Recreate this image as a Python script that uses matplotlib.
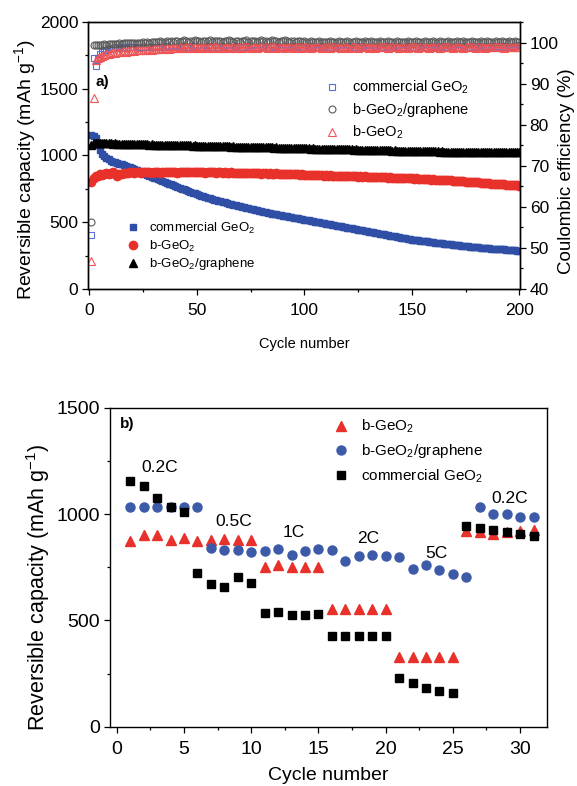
import matplotlib
matplotlib.use("Agg")
import matplotlib.pyplot as plt
from matplotlib.ticker import MultipleLocator

plt.rcParams['font.family'] = ['Liberation Sans', 'DejaVu Sans']
plt.rcParams['mathtext.default'] = 'regular'

# ---- panel a: 200 cycles ----
cycles_a = list(range(1, 201))

# capacity, mAh/g
cap_commercial = [
    1150, 1145, 1130, 1080, 1040, 1012, 998, 985, 972, 960,
    955, 950, 945, 940, 935, 929, 923, 917, 911, 905,
    898, 891, 884, 877, 870, 863, 856, 849, 842, 835,
    828, 822, 815, 809, 802, 796, 789, 783, 776, 770,
    764, 758, 752, 746, 740, 734, 728, 722, 716, 710,
    705, 700, 695, 690, 685, 680, 675, 670, 665, 660,
    656, 652, 648, 644, 640, 636, 632, 628, 624, 620,
    616, 612, 608, 604, 600, 597, 593, 590, 586, 583,
    579, 576, 572, 569, 565, 562, 559, 556, 553, 550,
    547, 544, 541, 538, 535, 532, 529, 526, 523, 520,
    517, 514, 511, 508, 505, 502, 499, 496, 493, 490,
    487, 484, 481, 478, 475, 472, 469, 466, 463, 460,
    457, 454, 451, 448, 445, 442, 439, 436, 433, 430,
    427, 424, 421, 418, 415, 412, 409, 406, 403, 400,
    397, 394, 391, 388, 385, 382, 379, 376, 373, 370,
    368, 366, 364, 362, 360, 358, 356, 354, 352, 350,
    348, 346, 344, 342, 340, 338, 336, 334, 332, 330,
    328, 326, 324, 322, 320, 319, 317, 316, 314, 313,
    311, 310, 308, 307, 305, 304, 303, 302, 301, 300,
    299, 297, 296, 295, 293, 292, 290, 289, 287, 285,
]
cap_bgeo2 = [
    800, 835, 845, 850, 860, 855, 865, 870, 862, 868,
    875, 860, 850, 858, 865, 870, 872, 868, 874, 876,
    872, 878, 875, 870, 876, 873, 878, 875, 872, 876,
    874, 877, 872, 875, 878, 874, 876, 873, 877, 875,
    872, 876, 874, 878, 875, 873, 877, 874, 876, 875,
    873, 876, 874, 872, 875, 873, 876, 874, 872, 875,
    873, 871, 874, 872, 870, 873, 871, 869, 872, 870,
    868, 871, 869, 867, 870, 868, 866, 869, 867, 865,
    868, 866, 864, 867, 865, 863, 866, 864, 862, 865,
    863, 861, 864, 862, 860, 862, 859, 857, 860, 856,
    855, 857, 854, 852, 855, 853, 851, 853, 850, 852,
    849, 851, 848, 850, 847, 849, 846, 848, 845, 847,
    844, 846, 843, 845, 842, 844, 841, 843, 840, 842,
    839, 841, 838, 840, 837, 839, 836, 838, 835, 836,
    834, 835, 832, 834, 831, 832, 829, 831, 828, 829,
    827, 828, 825, 826, 823, 824, 822, 823, 820, 821,
    818, 819, 817, 817, 815, 815, 813, 813, 811, 811,
    809, 809, 807, 806, 805, 804, 803, 801, 800, 799,
    798, 796, 795, 794, 793, 791, 790, 789, 788, 786,
    785, 784, 783, 781, 780, 779, 778, 777, 776, 775,
]
cap_graphene = [
    1080, 1092, 1094, 1093, 1092, 1091, 1092, 1090, 1091, 1090,
    1089, 1090, 1088, 1089, 1088, 1087, 1088, 1086, 1087, 1086,
    1085, 1086, 1084, 1085, 1084, 1083, 1084, 1082, 1083, 1082,
    1081, 1082, 1080, 1081, 1080, 1079, 1080, 1078, 1079, 1078,
    1077, 1078, 1076, 1077, 1076, 1075, 1076, 1074, 1075, 1074,
    1073, 1074, 1072, 1073, 1072, 1071, 1072, 1070, 1071, 1070,
    1069, 1070, 1068, 1069, 1068, 1067, 1068, 1066, 1067, 1066,
    1065, 1066, 1064, 1065, 1064, 1063, 1064, 1062, 1063, 1062,
    1061, 1062, 1060, 1061, 1060, 1059, 1060, 1058, 1059, 1058,
    1057, 1058, 1056, 1057, 1056, 1055, 1056, 1054, 1055, 1054,
    1053, 1054, 1052, 1053, 1052, 1051, 1052, 1050, 1051, 1050,
    1049, 1050, 1048, 1049, 1048, 1047, 1048, 1046, 1047, 1046,
    1045, 1046, 1044, 1045, 1044, 1043, 1044, 1042, 1043, 1042,
    1041, 1042, 1040, 1041, 1040, 1039, 1040, 1038, 1039, 1038,
    1037, 1038, 1036, 1037, 1036, 1035, 1036, 1034, 1035, 1034,
    1033, 1034, 1032, 1033, 1032, 1031, 1032, 1030, 1031, 1030,
    1030, 1031, 1029, 1030, 1029, 1028, 1029, 1028, 1029, 1028,
    1027, 1028, 1027, 1028, 1026, 1027, 1026, 1027, 1026, 1027,
    1026, 1025, 1026, 1025, 1026, 1025, 1026, 1025, 1025, 1026,
    1025, 1026, 1025, 1024, 1025, 1024, 1025, 1024, 1025, 1024,
]

# coulombic efficiency, %
ce_commercial = [
    53.2, 96.3, 94.4, 96.0, 97.2, 97.8, 98.1, 98.3, 98.5, 98.6,
    98.7, 98.6, 98.8, 98.7, 98.9, 98.8, 98.7, 98.9, 98.8, 99.0,
    98.8, 98.9, 98.7, 99.0, 98.8, 98.9, 99.0, 98.8, 98.9, 99.0,
    98.9, 98.8, 99.0, 98.9, 98.8, 99.1, 98.9, 98.8, 99.0, 98.9,
    99.0, 98.8, 98.9, 99.1, 98.9, 98.8, 99.0, 98.9, 99.1, 98.8,
    98.9, 99.0, 98.8, 98.9, 99.1, 99.0, 98.8, 98.9, 99.0, 98.9,
    98.8, 99.0, 99.1, 98.9, 98.8, 99.0, 98.9, 99.1, 98.9, 98.8,
    99.0, 98.9, 98.8, 99.1, 99.0, 98.9, 98.8, 99.0, 98.9, 99.1,
    98.9, 98.8, 99.0, 98.9, 99.1, 98.8, 98.9, 99.0, 98.9, 98.8,
    99.0, 99.1, 98.9, 98.8, 99.0, 98.9, 99.1, 98.9, 98.8, 99.0,
    98.9, 99.0, 98.8, 99.1, 98.9, 99.0, 98.8, 98.9, 99.1, 99.0,
    98.8, 98.9, 99.0, 98.9, 99.1, 98.8, 99.0, 98.9, 98.8, 99.0,
    99.1, 98.9, 98.8, 99.0, 98.9, 99.1, 99.0, 98.8, 98.9, 99.0,
    98.9, 98.8, 99.1, 99.0, 98.9, 98.8, 99.0, 99.1, 98.9, 98.8,
    99.0, 98.9, 99.1, 98.8, 98.9, 99.0, 98.9, 99.1, 98.8, 99.0,
    98.9, 99.0, 98.8, 99.1, 98.9, 99.0, 98.9, 98.8, 99.1, 99.0,
    98.9, 98.8, 99.0, 99.1, 98.9, 99.0, 98.8, 98.9, 99.1, 99.0,
    98.9, 99.0, 98.8, 99.1, 99.0, 98.9, 99.0, 98.8, 99.1, 98.9,
    99.0, 98.9, 99.1, 99.0, 98.9, 99.1, 99.0, 98.9, 99.1, 99.0,
    99.1, 98.9, 99.0, 99.1, 99.0, 99.1, 99.0, 99.2, 99.1, 99.5,
]
ce_graphene = [
    56.4, 99.4, 99.5, 99.4, 99.5, 99.5, 99.6, 99.5, 99.6, 99.6,
    99.7, 99.6, 99.7, 99.8, 99.7, 99.8, 99.8, 99.9, 99.8, 99.9,
    99.9, 100.0, 99.9, 100.0, 100.1, 100.0, 100.1, 100.0, 100.2, 100.1,
    100.2, 100.1, 100.3, 100.2, 100.1, 100.3, 100.2, 100.4, 100.2, 100.3,
    100.4, 100.2, 100.3, 100.5, 100.3, 100.2, 100.4, 100.3, 100.5, 100.3,
    100.4, 100.2, 100.3, 100.4, 100.3, 100.5, 100.2, 100.4, 100.3, 100.4,
    100.3, 100.2, 100.4, 100.3, 100.5, 100.3, 100.2, 100.4, 100.3, 100.2,
    100.4, 100.3, 100.5, 100.2, 100.3, 100.4, 100.3, 100.2, 100.4, 100.5,
    100.3, 100.4, 100.2, 100.3, 100.5, 100.3, 100.4, 100.2, 100.3, 100.4,
    100.5, 100.3, 100.2, 100.4, 100.3, 100.2, 100.4, 100.3, 100.2, 100.3,
    100.2, 100.1, 100.3, 100.2, 100.1, 100.2, 100.3, 100.1, 100.2, 100.1,
    100.2, 100.3, 100.1, 100.2, 100.1, 100.3, 100.2, 100.1, 100.2, 100.3,
    100.1, 100.2, 100.1, 100.3, 100.2, 100.1, 100.2, 100.3, 100.1, 100.2,
    100.3, 100.1, 100.2, 100.1, 100.3, 100.2, 100.2, 100.1, 100.3, 100.2,
    100.1, 100.2, 100.3, 100.1, 100.2, 100.2, 100.1, 100.3, 100.2, 100.1,
    100.2, 100.3, 100.1, 100.2, 100.1, 100.3, 100.2, 100.2, 100.1, 100.3,
    100.2, 100.1, 100.3, 100.2, 100.2, 100.1, 100.3, 100.2, 100.1, 100.2,
    100.3, 100.2, 100.1, 100.3, 100.2, 100.1, 100.2, 100.3, 100.2, 100.1,
    100.2, 100.3, 100.2, 100.1, 100.3, 100.2, 100.2, 100.1, 100.3, 100.2,
    100.1, 100.3, 100.2, 100.2, 100.3, 100.1, 100.2, 100.3, 100.2, 100.2,
]
ce_bgeo2 = [
    46.7, 86.6, 95.8, 96.2, 96.5, 96.8, 97.0, 97.2, 97.3, 97.5,
    97.6, 97.5, 97.7, 97.8, 97.7, 97.9, 97.8, 98.0, 97.9, 98.1,
    98.0, 98.1, 98.2, 98.1, 98.3, 98.2, 98.3, 98.4, 98.3, 98.4,
    98.5, 98.4, 98.5, 98.6, 98.5, 98.6, 98.5, 98.7, 98.6, 98.7,
    98.6, 98.8, 98.7, 98.6, 98.8, 98.7, 98.9, 98.7, 98.8, 98.6,
    98.8, 98.7, 98.9, 98.8, 98.6, 98.8, 98.7, 98.9, 98.8, 98.7,
    98.9, 98.7, 98.8, 99.0, 98.7, 98.8, 98.9, 98.7, 98.8, 98.9,
    98.7, 98.8, 99.0, 98.8, 98.7, 98.9, 98.8, 98.7, 98.9, 98.8,
    98.8, 98.9, 98.7, 98.8, 99.0, 98.8, 98.7, 98.9, 98.8, 98.9,
    98.7, 98.8, 98.9, 98.8, 98.7, 98.9, 99.0, 98.8, 98.7, 98.9,
    98.8, 98.9, 98.7, 98.8, 98.9, 98.8, 99.0, 98.7, 98.8, 98.9,
    98.8, 98.7, 98.9, 98.8, 99.0, 98.8, 98.7, 98.9, 98.8, 98.9,
    98.7, 98.9, 98.8, 98.9, 98.7, 98.8, 99.0, 98.8, 98.9, 98.7,
    98.9, 98.8, 98.7, 98.9, 98.8, 99.0, 98.8, 98.9, 98.7, 98.8,
    98.9, 98.8, 99.0, 98.7, 98.8, 98.9, 98.8, 98.7, 98.9, 98.8,
    98.8, 98.9, 98.7, 98.9, 98.8, 99.0, 98.8, 98.7, 98.9, 98.8,
    98.9, 98.8, 98.7, 98.9, 98.8, 98.9, 99.0, 98.8, 98.7, 98.9,
    98.8, 98.9, 98.8, 98.7, 98.9, 98.8, 99.0, 98.8, 98.9, 98.7,
    98.9, 98.8, 98.9, 98.7, 98.8, 98.9, 98.8, 99.0, 98.8, 98.9,
    98.8, 98.9, 98.7, 98.8, 98.9, 98.8, 98.9, 98.8, 98.9, 98.9,
]

# ---- panel b: rate test ----
cycles_b = list(range(1, 32))
rate_bgeo2 = [873, 900, 900, 877, 889, 876, 877, 884, 881, 879,
              752, 761, 750, 750, 750, 555, 555, 555, 555, 555,
              327, 327, 327, 327, 327, 920, 915, 909, 918, 920, 925]
rate_graphene = [1032, 1035, 1036, 1034, 1033, 1033, 841, 833, 833, 822,
                 825, 838, 810, 825, 838, 833, 778, 805, 810, 802,
                 799, 744, 759, 736, 720, 706, 1035, 1003, 999, 988, 988]
rate_commercial = [1156, 1135, 1077, 1035, 1011, 724, 672, 656, 703, 675,
                   535, 540, 524, 527, 532, 425, 425, 425, 425, 425,
                   231, 205, 183, 168, 157, 943, 936, 925, 918, 909, 898]
rate_labels = ['0.2C', '0.5C', '1C', '2C', '5C', '0.2C']
rate_label_x = [3.2, 8.7, 13.2, 18.7, 23.8, 29.2]
rate_label_y = [1219, 967, 912, 884, 815, 1074]

BLUE = '#2f4ea6'
RED = '#e8312b'
BLUE_B = '#3c5aa8'

W, H = 577, 786
fig = plt.figure(figsize=(W / 100, H / 100), dpi=100)


def rect(l, r, t, b):
    return [l / W, 1 - b / H, (r - l) / W, (b - t) / H]


# ---------------- panel a ----------------
ax = fig.add_axes(rect(88, 520, 22, 289))
ax2 = ax.twinx()

ax.plot(cycles_a, cap_commercial, 's', color=BLUE, ms=4.8, mec=BLUE, label='commercial GeO$_2$')
ax.plot(cycles_a, cap_bgeo2, 'o', color=RED, ms=6, mec=RED, label='b-GeO$_2$')
ax.plot(cycles_a, cap_graphene, '^', color='black', ms=6, mec='black', label='b-GeO$_2$/graphene')

ax2.plot(cycles_a, ce_commercial, 's', mfc='none', mec='#5b6fd2', mew=0.8, ms=5, label='commercial GeO$_2$')
ax2.plot(cycles_a, ce_graphene, 'o', mfc='none', mec='#5a5a5a', mew=0.8, ms=5, label='b-GeO$_2$/graphene')
ax2.plot(cycles_a, ce_bgeo2, '^', mfc='none', mec='#f05555', mew=0.8, ms=5.5, label='b-GeO$_2$')

ax.set_xlim(-0.6, 200.3)
ax.set_ylim(0, 2000)
ax2.set_ylim(40, 105)
ax.xaxis.set_major_locator(MultipleLocator(50))
ax.xaxis.set_minor_locator(MultipleLocator(25))
ax.yaxis.set_major_locator(MultipleLocator(500))
ax.yaxis.set_minor_locator(MultipleLocator(250))
ax2.yaxis.set_minor_locator(MultipleLocator(5))
ax2.set_yticks(range(40, 101, 10))

for a in (ax, ax2):
    a.tick_params(which='major', direction='out', length=4, width=0.9, labelsize=12.5, pad=3)
    a.tick_params(which='minor', direction='out', length=2.5, width=0.9)
    for s in a.spines.values():
        s.set_linewidth(1.0)
ax.tick_params(axis='x', pad=6)

ax.set_xlabel('Cycle number', fontsize=10.5, labelpad=14)
ax.set_ylabel('Reversible capacity (mAh g$^{-1}$)', fontsize=14)
ax.yaxis.set_label_coords(-0.116, 0.449)
ax2.set_ylabel('Coulombic efficiency (%)', fontsize=13.5)
ax2.yaxis.set_label_coords(1.088, 0.44)

ax.text(6, 1554, 'a)', fontsize=11, fontweight='bold', ha='center', va='center')

leg_top = ax2.legend(loc='upper left', bbox_to_anchor=(325 / W, 1 - 79 / H),
                     bbox_transform=fig.transFigure, frameon=False, fontsize=10.5,
                     handlelength=1.0, handletextpad=0.85, labelspacing=0.33,
                     borderpad=0, borderaxespad=0)
leg_bot = ax.legend(loc='upper left', bbox_to_anchor=(126 / W, 1 - 221 / H),
                    bbox_transform=fig.transFigure, frameon=False, fontsize=9.5,
                    handlelength=1.0, handletextpad=0.75, labelspacing=0.2,
                    borderpad=0, borderaxespad=0)

# ---------------- panel b ----------------
bx = fig.add_axes(rect(110, 547, 408, 726.7))
bx.plot(cycles_b, rate_bgeo2, '^', color=RED, ms=7, mec=RED, label='b-GeO$_2$', zorder=3)
bx.plot(cycles_b, rate_graphene, 'o', color=BLUE_B, ms=6.5, mec=BLUE_B, label='b-GeO$_2$/graphene', zorder=3)
bx.plot(cycles_b, rate_commercial, 's', color='black', ms=5.5, mec='black', label='commercial GeO$_2$', zorder=4)

for lx, ly, lt in zip(rate_label_x, rate_label_y, rate_labels):
    bx.text(lx, ly, lt, fontsize=12.5, ha='center', va='center')
bx.text(0.8, 1423, 'b)', fontsize=11, fontweight='bold', ha='center', va='center')

bx.set_xlim(-0.5, 32)
bx.set_ylim(0, 1500)
bx.xaxis.set_major_locator(MultipleLocator(5))
bx.xaxis.set_minor_locator(MultipleLocator(2.5))
bx.yaxis.set_major_locator(MultipleLocator(500))
bx.yaxis.set_minor_locator(MultipleLocator(250))
bx.tick_params(which='major', direction='out', length=4, width=0.9, labelsize=14, pad=3)
bx.tick_params(which='minor', direction='out', length=2.5, width=0.9)
bx.tick_params(axis='x', pad=6)
for s in bx.spines.values():
    s.set_linewidth(1.0)
bx.set_xlabel('Cycle number', fontsize=14, labelpad=7)
bx.set_ylabel('Reversible capacity (mAh g$^{-1}$)', fontsize=15.5)
bx.yaxis.set_label_coords(-0.133, 0.436)

bx.legend(loc='upper left', bbox_to_anchor=(333 / W, 1 - 418 / H),
          bbox_transform=fig.transFigure, frameon=False, fontsize=11,
          handlelength=1.0, handletextpad=0.85, labelspacing=0.45,
          borderpad=0, borderaxespad=0)

fig.savefig('out.png', dpi=100)
